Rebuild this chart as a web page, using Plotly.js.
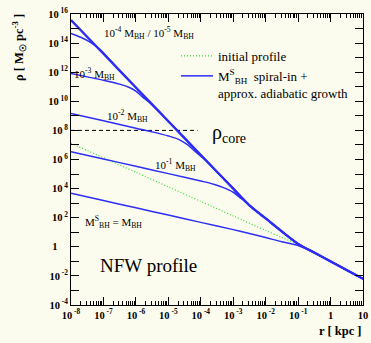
<!DOCTYPE html>
<html>
<head>
<meta charset="utf-8">
<script src="https://cdn.plot.ly/plotly-3.0.1.min.js"></script>
<style>html,body{margin:0;padding:0;background:#fcfcee;}#chart{width:371px;height:343px;}</style>
</head>
<body>
<div id="chart"></div>
<script>
// log10(r [kpc]) and log10(rho [Msun pc^-3])
const logR_nfw   = [-8, -7, -6, -5, -4, -3, -2, -1.5, -1, -0.5, 0, 0.5, 1];
const logRho_nfw = [7.12, 6.12, 5.12, 4.12, 3.12, 2.12, 1.12, 0.64, 0.17, -0.4, -1.0, -1.6, -2.2];

const logR_m5   = [-8, -7, -6, -5, -4, -3, -2.5, -2, -1.5, -1, -0.5, 0, 0.5, 1];
const logRho_m5 = [15.59, 13.27, 10.95, 8.63, 6.31, 4.0, 2.85, 1.95, 1.05, 0.2, -0.4, -1.0, -1.6, -2.2];

const logR_m4   = [-8, -7.7, -7.4, -7.1, -6.8, -6.5, -6, -5, -4, -3, -2.5, -2, -1.5, -1, -0.5, 0, 0.5, 1];
const logRho_m4 = [14.67, 14.4, 14.05, 13.55, 12.85, 12.11, 10.95, 8.63, 6.31, 4.0, 2.85, 1.95, 1.05, 0.2, -0.4, -1.0, -1.6, -2.2];

const logR_m3   = [-8, -7.5, -7, -6.5, -6.2, -6.0, -5.8, -5.6, -5.3, -5, -4, -3, -2.5, -2, -1.5, -1, -0.5, 0, 0.5, 1];
const logRho_m3 = [11.92, 11.68, 11.45, 11.18, 10.95, 10.7, 10.3, 9.95, 9.33, 8.63, 6.31, 4.0, 2.85, 1.95, 1.05, 0.2, -0.4, -1.0, -1.6, -2.2];

const logR_m2   = [-8, -7, -6, -5.5, -5, -4.7, -4.4, -4.2, -4.0, -3.8, -3.5, -3, -2.5, -2, -1.5, -1, -0.5, 0, 0.5, 1];
const logRho_m2 = [9.17, 8.67, 8.15, 7.9, 7.62, 7.4, 7.0, 6.6, 6.22, 5.85, 5.15, 4.0, 2.85, 1.95, 1.05, 0.2, -0.4, -1.0, -1.6, -2.2];

const logR_m1   = [-8, -7, -6, -5, -4, -3.6, -3.3, -3.0, -2.8, -2.6, -2.5, -2, -1.5, -1, -0.5, 0, 0.5, 1];
const logRho_m1 = [6.54, 6.04, 5.53, 5.03, 4.52, 4.3, 4.07, 3.75, 3.4, 3.05, 2.85, 1.95, 1.05, 0.2, -0.4, -1.0, -1.6, -2.2];

const logR_m0   = [-8, -7, -6, -5, -4, -3, -2.5, -2, -1.5, -1, -0.5, 0, 0.5, 1];
const logRho_m0 = [3.68, 3.18, 2.68, 2.18, 1.68, 1.18, 0.92, 0.64, 0.34, 0.08, -0.42, -1.0, -1.6, -2.2];

const logR_core   = [-8, -4.1];
const logRho_core = [8, 8];

const xTickExp = [-8, -7, -6, -5, -4, -3, -2, -1, 0, 1];
const xTickText = ["10<sup> -8</sup>", "10<sup> -7</sup>", "10<sup> -6</sup>", "10<sup> -5</sup>", "10<sup> -4</sup>", "10<sup> -3</sup>", "10<sup> -2</sup>", "10<sup> -1</sup>", "1", "10"];
const yTickExp = [-4, -3, -2, -1, 0, 1, 2, 3, 4, 5, 6, 7, 8, 9, 10, 11, 12, 13, 14, 15, 16];
const yTickText = ["10<sup> -4</sup>", "", "10<sup> -2</sup>", "", "1\u00a0\u00a0\u00a0\u00a0", "", "10<sup> 2</sup>", "", "10<sup> 4</sup>", "", "10<sup> 6</sup>", "", "10<sup> 8</sup>", "", "10<sup> 10</sup>", "", "10<sup> 12</sup>", "", "10<sup> 14</sup>", "", "10<sup> 16</sup>"];

const p10 = a => a.map(v => Math.pow(10, v));
const BLUE = '#2d2df5';
const FONT = 'Liberation Serif';

function blue(lr, lrho, w, show, name) {
  return {x: p10(lr), y: p10(lrho), mode: 'lines', type: 'scatter',
    line: {color: BLUE, width: w, shape: 'spline', smoothing: 0.8},
    showlegend: show, name: name || '', hoverinfo: 'skip'};
}

const traces = [
  {x: p10(logR_core), y: p10(logRho_core), mode: 'lines', line: {color: '#000', width: 1, dash: '4px,3px'}, showlegend: false, hoverinfo: 'skip'},
  {x: p10(logR_nfw), y: p10(logRho_nfw), mode: 'lines', name: 'initial profile',
   line: {color: '#2ee02e', width: 1.2, dash: '1px,2px', shape: 'spline', smoothing: 0.8}},
  blue(logR_m0, logRho_m0, 1.5, true, 'M<sup>S</sup><sub>BH</sub>  spiral-in +<br>approx. adiabatic growth'),
  blue(logR_m1, logRho_m1, 1.5, false),
  blue(logR_m2, logRho_m2, 1.5, false),
  blue(logR_m3, logRho_m3, 1.5, false),
  blue(logR_m4, logRho_m4, 1.5, false),
  blue(logR_m5, logRho_m5, 2.4, false)
];

const ann = (x, y, text, size, extra) => Object.assign({xref: 'paper', yref: 'paper', x: x, y: y, text: text,
  xanchor: 'center', yanchor: 'middle',
  showarrow: false, font: {family: FONT, size: size, color: '#000'}}, extra || {});
const px = v => (v - 71) / 292;     // pixel x -> paper
const py = v => (305 - v) / 291;    // pixel y -> paper

const layout = {
  width: 371, height: 343,
  margin: {l: 71, r: 8, t: 14, b: 38},
  paper_bgcolor: '#fcfcee', plot_bgcolor: '#fcfcee',
  font: {family: FONT, size: 10, color: '#000'},
  xaxis: {type: 'log', range: [-8, 1], tickmode: 'array', tickvals: p10(xTickExp), ticktext: xTickText,
    ticks: 'inside', ticklen: 8, tickcolor: '#000', showline: true, linecolor: '#000', linewidth: 1,
    mirror: 'ticks', showgrid: false, zeroline: false,
    tickfont: {family: FONT, size: 10.5, weight: 'bold'},
    minor: {ticks: 'inside', ticklen: 4, dtick: 'D1', tickcolor: '#000', showgrid: false}},
  yaxis: {type: 'log', range: [-4, 16], tickmode: 'array', tickvals: p10(yTickExp), ticktext: yTickText,
    ticks: 'inside', ticklen: 8, tickcolor: '#000', showline: true, linecolor: '#000', linewidth: 1,
    mirror: 'ticks', showgrid: false, zeroline: false,
    tickfont: {family: FONT, size: 10.5, weight: 'bold'}},
  showlegend: true,
  legend: {x: px(176), y: py(41), xanchor: 'left', yanchor: 'top', bgcolor: 'rgba(0,0,0,0)',
    font: {family: FONT, size: 13}, valign: 'top', itemwidth: 32, tracegroupgap: 0},
  annotations: [
    ann(px(149), py(33), '10<sup>-4</sup> M<sub>BH</sub> / 10<sup>-5</sup> M<sub>BH</sub>', 11),
    ann(px(94), py(74), '10<sup>-3</sup> M<sub>BH</sub>', 11),
    ann(px(127), py(116), '10<sup>-2</sup> M<sub>BH</sub>', 11),
    ann(px(175), py(165), '10<sup>-1</sup> M<sub>BH</sub>', 11),
    ann(px(113), py(222), 'M<sup>S</sup><sub>BH</sub> = M<sub>BH</sub>', 11),
    ann(px(148), py(265), 'NFW profile', 19),
    ann(px(229), py(133), 'ρ<sub>core</sub>', 20),
    ann(px(363), py(331), 'r [ kpc ]', 12, {xanchor: 'right', font: {family: FONT, size: 12.5, weight: 'bold', color: '#000'}}),
    ann(px(19), py(48), 'ρ [ M<sub>☉</sub> pc<sup>-3</sup> ]', 12, {textangle: -90, font: {family: FONT, size: 12.5, weight: 'bold', color: '#000'}})
  ]
};

Plotly.newPlot('chart', traces, layout, {staticPlot: true, displayModeBar: false});
</script>
</body>
</html>
